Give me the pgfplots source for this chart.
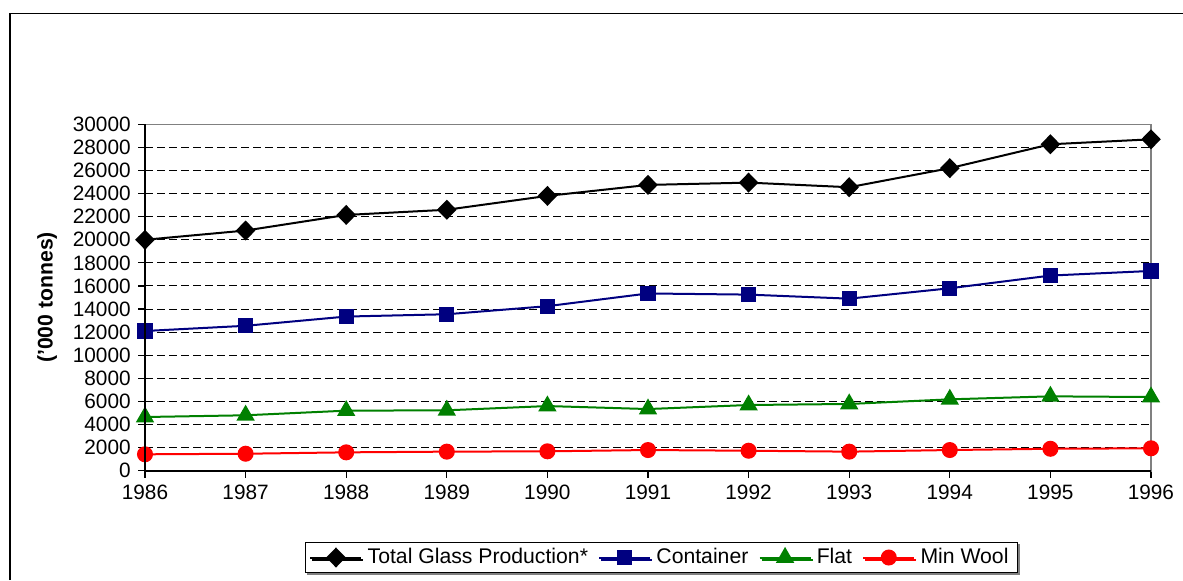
\documentclass[border=0pt]{standalone}
\usepackage{pgfplots}
\pgfplotsset{compat=1.18}
\usepackage{fontspec}
\setmainfont{Liberation Sans}
\usetikzlibrary{shadows}
\definecolor{navyc}{RGB}{0,0,128}
\definecolor{greenc}{RGB}{0,128,0}
\definecolor{redc}{RGB}{255,0,0}
\definecolor{framegray}{RGB}{128,128,128}

\pgfplotstableread{
year total container flat minwool
1986 20000 12100 4650 1420
1987 20800 12550 4800 1470
1988 22150 13350 5200 1590
1989 22600 13550 5230 1650
1990 23800 14250 5600 1680
1991 24750 15350 5340 1790
1992 24950 15250 5690 1730
1993 24550 14900 5780 1650
1994 26200 15800 6180 1790
1995 28270 16900 6440 1900
1996 28700 17300 6380 1940
}\datatable

\begin{document}
\fontsize{10.4pt}{12.5pt}\selectfont
\begin{tikzpicture}
\useasboundingbox (0,0) rectangle (591.5pt,290pt);
\draw[black, line width=0.6pt] (5pt,0pt) -- (5pt,283.35pt) -- (591.5pt,283.35pt);
\begin{axis}[
  at={(72.5pt,54.65pt)}, anchor=south west,
  scale only axis, width=503pt, height=173.2pt,
  xmin=1986, xmax=1996, ymin=0, ymax=30000,
  xtick={1986,...,1996}, ytick={0,2000,...,30000},
  scaled y ticks=false, scaled x ticks=false,
  xticklabel style={/pgf/number format/1000 sep={}},
  yticklabel style={/pgf/number format/1000 sep={}, /pgf/number format/fixed},
  /pgf/number format/assume math mode=true,
  ticklabel style={font=\fontsize{10.4pt}{12.5pt}\selectfont},
  tick align=outside, major tick length=3.5pt,
  xtick pos=bottom, ytick pos=left,
  tick style={black, line width=0.6pt},
  axis line style={framegray, line width=0.8pt},
  ymajorgrids,
  major grid style={black, line width=0.5pt, dash pattern=on 4pt off 2pt},
  ylabel={('000 tonnes)},
  every axis y label/.style={at={(rel axis cs:-0.0974,0.5)}, rotate=90, anchor=center,
    font=\bfseries\fontsize{10.6pt}{12.5pt}\selectfont},
  clip=false,
  legend columns=-1,
  legend style={at={(0.5135,-0.2506)}, anchor=center, draw=black, line width=0.6pt,
    font=\fontsize{10.6pt}{12.5pt}\selectfont,
    drop shadow={shadow xshift=1pt, shadow yshift=-1pt, fill=framegray, opacity=1},
    inner xsep=2pt, inner ysep=1.5pt,
    nodes={inner xsep=2.6pt, inner ysep=1.5pt},
    /tikz/every even column/.append style={column sep=2.5pt}},
  legend image code/.code={\draw[mark repeat=2,mark phase=2] plot coordinates {(0pt,0pt) (12.75pt,0pt) (25.5pt,0pt)};},
  after end axis/.code={
    \draw[black, line width=0.8pt] (rel axis cs:0,1) -- (rel axis cs:0,0) -- (rel axis cs:1,0);
  },
]
\addplot[black, line width=1pt, mark=diamond*, mark size=4.3pt, mark options={xscale=1.3, solid}] table[x=year, y=total] {\datatable};
\addlegendentry{Total Glass Production*}
\addplot[navyc, line width=1pt, mark=square*, mark size=3.3pt, mark options={solid}] table[x=year, y=container] {\datatable};
\addlegendentry{Container}
\addplot[greenc, line width=1pt, mark=triangle*, mark size=4.3pt, mark options={solid}] table[x=year, y=flat] {\datatable};
\addlegendentry{Flat}
\addplot[redc, line width=1pt, mark=*, mark size=3.5pt, mark options={solid}] table[x=year, y=minwool] {\datatable};
\addlegendentry{Min Wool}
\end{axis}
\end{tikzpicture}
\end{document}
